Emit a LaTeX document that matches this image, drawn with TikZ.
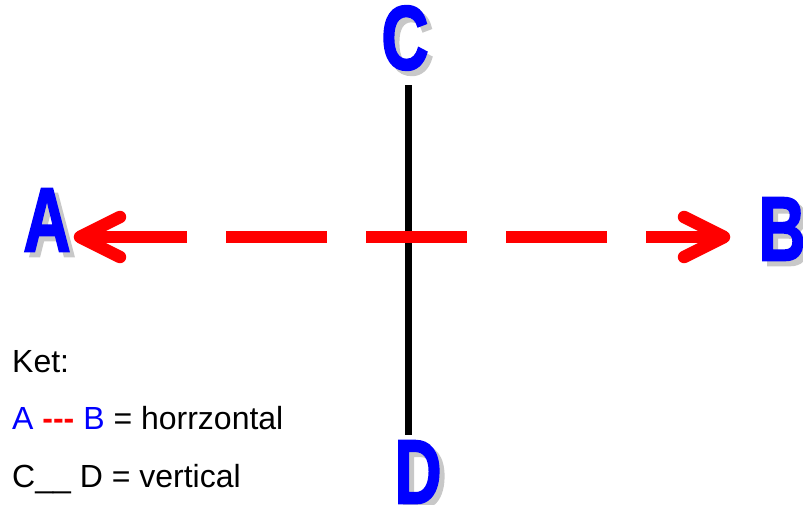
\documentclass[tikz,border=0pt]{standalone}
\usepackage{fontspec}
\setmainfont{Liberation Sans}
\newfontfamily\heavyfont[BoldFeatures={FakeBold=2.5}]{Liberation Sans}
\usepackage{xcolor}
\usetikzlibrary{arrows.meta, positioning, calc}

\definecolor{letterblue}{RGB}{0,0,255}
\definecolor{rayred}{RGB}{255,0,0}
\definecolor{shadowgray}{RGB}{200,200,200}

\newcommand{\heavy}[1]{\scalebox{0.74}[1.03]{\heavyfont\bfseries #1}}

\begin{document}
\begin{tikzpicture}[
    x=1pt, y=-1pt,
    letter/.style={inner sep=0pt, text=letterblue, font=\fontsize{88}{88}\selectfont},
    shadowletter/.style={inner sep=0pt, text=shadowgray, font=\fontsize{88}{88}\selectfont},
    axis/.style={line width=7pt, black},
    ray/.style={line width=12.5pt, rayred, dash pattern=on 101pt off 39pt,
                {Straight Barb[length=40pt, width=40pt, line cap=round, line join=round]}-{Straight Barb[length=40pt, width=40pt, line cap=round, line join=round]}},
    legend/.style={anchor=base west, inner sep=0pt, font=\fontsize{32}{38}\selectfont}
]
\useasboundingbox (0,0) rectangle (803,505);

% Big letters with their shadows
\node[shadowletter] (As) at (52,225) {\heavy{A}};
\node[letter] (A) at (47,220) {\heavy{A}};
\node[shadowletter] (Bs) at (787,234) {\heavy{B}};
\node[letter] (B) at (782,229) {\heavy{B}};
\node[shadowletter] (Cs) at (410,43) {\heavy{C}};
\node[letter] (C) at (405,38) {\heavy{C}};
\node[shadowletter] (Ds) at (423,477) {\heavy{D}};
\node[letter] (D) at (418,472) {\heavy{D}};

% Crossing point
\coordinate (mid) at (408,237);

% Vertical axis C -- D
\draw[axis, shorten <=15pt, shorten >=6pt] (C.south -| mid) -- (D.north -| mid);

% Horizontal axis A <--> B
\draw[ray, shorten <=3pt, shorten >=28pt] (A.east |- mid) -- (B.west |- mid);

% Legend
\node[legend] (ket) at (12,372) {Ket:};
\node[legend] (hor) at (12,429) {{\color{letterblue}A} {\color{rayred}\bfseries -{}-{}-} {\color{letterblue}B} = horrzontal};
\node[legend] (ver) at (12,487) {C\_\_ D = vertical};
\end{tikzpicture}
\end{document}
